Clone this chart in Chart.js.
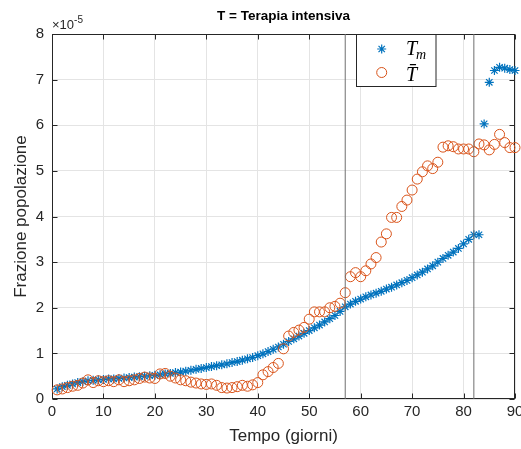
<!DOCTYPE html>
<html>
<head>
<meta charset="utf-8">
<script src="https://cdn.jsdelivr.net/npm/chart.js@4/dist/chart.umd.min.js"></script>
<style>
  html, body { margin: 0; padding: 0; background: #fff; }
  canvas { display: block; }
</style>
</head>
<body>
<canvas id="c" width="521" height="449"></canvas>
<script>
// Days of observation
const days = Array.from({ length: 90 }, (_, i) => i + 1);

// Model fraction T_m (units of 1e-5)
const tModel = [
  0.22, 0.27, 0.30, 0.33, 0.36, 0.38, 0.40, 0.41, 0.42, 0.43,
  0.44, 0.44, 0.45, 0.46, 0.47, 0.48, 0.49, 0.50, 0.51, 0.52,
  0.53, 0.55, 0.56, 0.58, 0.59, 0.61, 0.63, 0.65, 0.67, 0.69,
  0.71, 0.73, 0.75, 0.77, 0.80, 0.82, 0.85, 0.88, 0.91, 0.95,
  0.99, 1.04, 1.09, 1.14, 1.20, 1.26, 1.32, 1.38, 1.44, 1.50,
  1.56, 1.62, 1.69, 1.76, 1.83, 1.92, 2.02, 2.08, 2.14, 2.19,
  2.24, 2.28, 2.32, 2.36, 2.41, 2.45, 2.50, 2.55, 2.60, 2.66,
  2.72, 2.78, 2.85, 2.92, 3.00, 3.08, 3.15, 3.22, 3.30, 3.40,
  3.50, 3.60, 3.60, 6.03, 6.94, 7.20, 7.27, 7.25, 7.22, 7.20
];

// Observed fraction T-bar (units of 1e-5)
const tObs = [
  0.20, 0.22, 0.25, 0.28, 0.30, 0.35, 0.42, 0.36, 0.40, 0.38,
  0.40, 0.38, 0.42, 0.38, 0.40, 0.42, 0.45, 0.48, 0.46, 0.45,
  0.55, 0.56, 0.50, 0.46, 0.42, 0.40, 0.37, 0.35, 0.33, 0.32,
  0.33, 0.30, 0.25, 0.24, 0.25, 0.27, 0.30, 0.28, 0.31, 0.36,
  0.53, 0.60, 0.69, 0.78, 1.10, 1.38, 1.46, 1.51, 1.57, 1.75,
  1.91, 1.91, 1.91, 2.00, 2.03, 2.10, 2.33, 2.68, 2.77, 2.68,
  2.81, 2.96, 3.10, 3.44, 3.62, 3.98, 3.98, 4.22, 4.36, 4.58,
  4.82, 4.98, 5.11, 5.05, 5.19, 5.52, 5.55, 5.53, 5.48, 5.48,
  5.48, 5.42, 5.59, 5.57, 5.46, 5.58, 5.80, 5.62, 5.51, 5.51
];

// Reference days marked with vertical lines
const markerDays = [57, 82];

// Axis ranges and ticks
const xRange = [0, 90];
const yRange = [0, 8];
const xStep = 10;
const yStep = 1;

const titleText = 'T = Terapia intensiva';

const BLUE = '#0072BD';
const ORANGE = '#D95319';
const AXIS = '#262626';
const FONT = '"Liberation Sans", Arial, Helvetica, sans-serif';

const toPoints = (xs, ys) => xs.map((x, i) => ({ x, y: ys[i] }));

const datasets = [
  {
    label: 'T_m',
    data: toPoints(days, tModel),
    showLine: false,
    pointStyle: 'star',
    pointRadius: 4.5,
    pointBorderWidth: 1.2,
    borderColor: BLUE,
    backgroundColor: BLUE,
    clip: false,
    order: 3
  },
  {
    label: 'T\u0304',
    data: toPoints(days, tObs),
    showLine: false,
    pointStyle: 'circle',
    pointRadius: 5,
    pointBorderWidth: 1,
    borderColor: ORANGE,
    backgroundColor: 'rgba(0,0,0,0)',
    clip: false,
    order: 2
  }
];

markerDays.forEach(d => {
  datasets.push({
    label: '',
    isMarkerLine: true,
    data: [{ x: d, y: yRange[0] }, { x: d, y: yRange[1] }],
    showLine: true,
    borderColor: '#6f6f6f',
    borderWidth: 1,
    pointRadius: 0,
    order: 1
  });
});

// Title centred over the plot area, box around the axes,
// inward tick marks and the exponent label
const axesFrame = {
  id: 'axesFrame',
  beforeDatasetsDraw(chart) {
    const { ctx, chartArea: a, scales } = chart;
    ctx.save();

    ctx.fillStyle = '#000';
    ctx.font = 'bold 13.5px ' + FONT;
    ctx.textAlign = 'center';
    ctx.textBaseline = 'middle';
    ctx.fillText(titleText, (a.left + a.right) / 2, 16);

    ctx.strokeStyle = AXIS;
    ctx.lineWidth = 1;
    const L = Math.round(a.left) + 0.5, R = Math.round(a.right) - 0.5;
    const T = Math.round(a.top) + 0.5, B = Math.round(a.bottom) - 0.5;
    ctx.strokeRect(L, T, R - L, B - T);
    const tl = 5;
    ctx.beginPath();
    scales.x.ticks.forEach(t => {
      const px = Math.round(scales.x.getPixelForValue(t.value)) + 0.5;
      ctx.moveTo(px, B); ctx.lineTo(px, B - tl);
      ctx.moveTo(px, T); ctx.lineTo(px, T + tl);
    });
    scales.y.ticks.forEach(t => {
      const py = Math.round(scales.y.getPixelForValue(t.value)) + 0.5;
      ctx.moveTo(L, py); ctx.lineTo(L + tl, py);
      ctx.moveTo(R, py); ctx.lineTo(R - tl, py);
    });
    ctx.stroke();

    // exponent of the y axis
    ctx.fillStyle = AXIS;
    ctx.textBaseline = 'alphabetic';
    ctx.textAlign = 'left';
    ctx.font = '13px ' + FONT;
    ctx.fillText('\u00d710', a.left, a.top - 5);
    const w = ctx.measureText('\u00d710').width;
    ctx.font = '10px ' + FONT;
    ctx.fillText('-5', a.left + w, a.top - 11);
    ctx.restore();
  }
};

// Legend box in the upper part of the plot
const innerLegend = {
  id: 'innerLegend',
  afterDatasetsDraw(chart) {
    const { ctx } = chart;
    const x0 = 356.5, y0 = 34.5, w = 79.5, h = 52;
    ctx.save();
    ctx.fillStyle = '#fff';
    ctx.fillRect(x0, y0, w, h);
    ctx.strokeStyle = AXIS;
    ctx.lineWidth = 1;
    ctx.strokeRect(x0, y0, w, h);

    const sets = chart.data.datasets.filter(d => !d.isMarkerLine);
    const rows = [49, 72.5];
    sets.forEach((ds, i) => {
      const cy = rows[i];
      ctx.strokeStyle = ds.borderColor;
      ctx.fillStyle = ds.backgroundColor;
      ctx.lineWidth = ds.pointBorderWidth;
      Chart.helpers.drawPoint(ctx, {
        pointStyle: ds.pointStyle,
        radius: ds.pointRadius,
        borderWidth: ds.pointBorderWidth,
        rotation: 0
      }, 381.7, cy);

      ctx.fillStyle = '#000';
      ctx.textAlign = 'left';
      ctx.textBaseline = 'alphabetic';
      const base = cy + 6;
      if (ds.label === 'T_m') {
        ctx.font = 'italic 20px "Liberation Serif", "DejaVu Serif", serif';
        ctx.fillText('T', 406, base);
        const tw = ctx.measureText('T').width;
        ctx.font = 'italic 14px "Liberation Serif", "DejaVu Serif", serif';
        ctx.fillText('m', 406 + tw - 1, base + 4);
      } else {
        ctx.font = 'italic 20px "Liberation Serif", "DejaVu Serif", serif';
        ctx.fillText(ds.label, 406, base + 2);
      }
    });
    ctx.restore();
  }
};

new Chart(document.getElementById('c'), {
  type: 'scatter',
  data: { datasets },
  plugins: [axesFrame, innerLegend],
  options: {
    responsive: false,
    animation: false,
    events: [],
    layout: { padding: { left: 0, right: 5, top: 34, bottom: 0 } },
    plugins: {
      legend: { display: false },
      tooltip: { enabled: false },
      title: { display: false }
    },
    scales: {
      x: {
        type: 'linear',
        min: xRange[0],
        max: xRange[1],
        border: { display: false },
        grid: { color: '#e4e4e4', drawTicks: false },
        ticks: {
          stepSize: xStep,
          color: AXIS,
          padding: 4,
          maxRotation: 0,
          font: { family: FONT, size: 15 }
        },
        title: {
          display: true,
          text: 'Tempo (giorni)',
          color: AXIS,
          font: { family: FONT, size: 17 },
          padding: { top: 0, bottom: 2 }
        },
        afterFit(s) { s.height = 50; s.paddingLeft = 0; s.paddingRight = 0; }
      },
      y: {
        type: 'linear',
        min: yRange[0],
        max: yRange[1],
        border: { display: false },
        grid: { color: '#e4e4e4', drawTicks: false },
        ticks: {
          stepSize: yStep,
          color: AXIS,
          padding: 8,
          font: { family: FONT, size: 15 }
        },
        title: {
          display: true,
          text: 'Frazione popolazione',
          color: AXIS,
          font: { family: FONT, size: 17 },
          padding: { top: 11, bottom: 0 }
        },
        afterFit(s) { s.width = 52; s.paddingTop = 0; s.paddingBottom = 0; }
      }
    }
  }
});
</script>
</body>
</html>
